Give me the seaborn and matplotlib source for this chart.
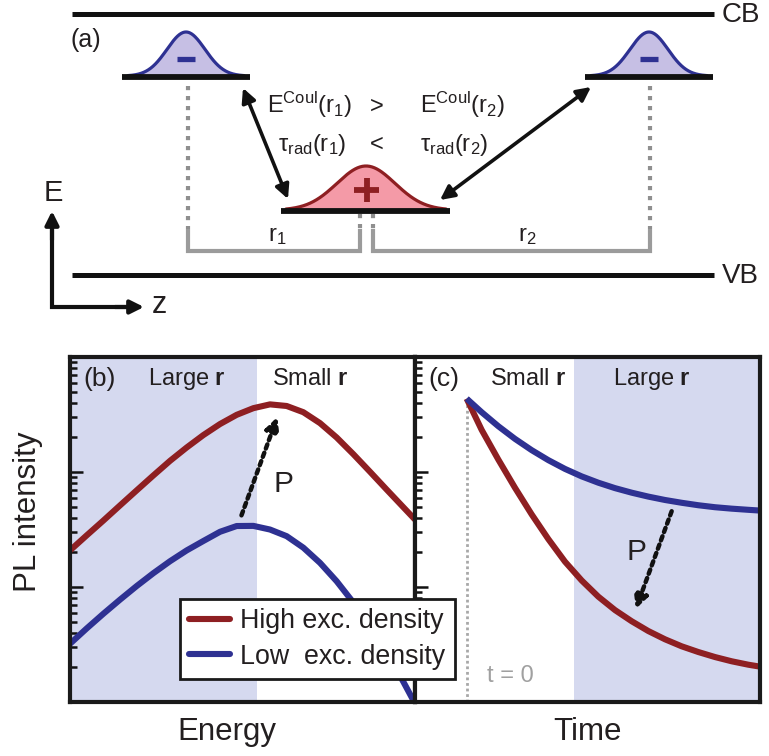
import numpy as np
import pandas as pd
import matplotlib
matplotlib.use("Agg")
import matplotlib.pyplot as plt
import seaborn as sns
from matplotlib.ticker import LogLocator, NullFormatter, NullLocator

# ---------------- data ----------------
series = ["High exc. density", "Low  exc. density"]

# (b) PL spectrum, energy in arbitrary units
energy = [0, 50, 100, 150, 200, 250, 300, 350, 400, 450, 500, 550, 600, 650,
          700, 750, 800, 850, 900, 950, 1000, 1035]
pl_high = [20.8, 28.1, 37.8, 51.2, 69.2, 93.3, 125.0, 163.3, 209.4, 261.2, 314.1,
           358.9, 387.3, 375.0, 331.1, 266.1, 199.5, 142.9, 100.5, 70.3, 49.4, 38.6]
pl_low = [3.21, 4.36, 5.85, 7.76, 10.19, 13.18, 16.75, 20.80, 25.12, 30.2, 33.9,
          34.0, 31.6, 27.67, 21.98, 16.22, 11.22, 7.33, 4.54, 2.67, 1.50, 0.97]

# (c) PL transient, time in arbitrary units
time = [0, 45, 95, 145, 195, 245, 295, 345, 395, 445, 495, 545, 595, 645, 695,
        745, 795, 845, 880]
tr_high = [434.5, 232.3, 128.2, 72.9, 42.8, 26.1, 16.6, 11.4, 8.24, 6.30, 5.04,
           4.14, 3.51, 3.05, 2.72, 2.46, 2.26, 2.11, 2.03]
tr_low = [434.5, 331.1, 250.0, 194.1, 154.9, 126.8, 106.4, 91.6, 80.7, 72.4, 66.1,
          61.1, 57.1, 54.0, 51.4, 49.4, 48.0, 46.9, 46.2]

energy_range = (0, 1035)
time_range = (-155, 880)
pl_range = (1, 1000)
large_r_energy = (0, 560)   # shaded "Large r" region in (b)
large_r_time = (323, 880)   # shaded "Large r" region in (c)

# ---------------- style ----------------
RED = "#8e1f22"
BLUE = "#2e3192"
SHADE = "#d5d9ef"
INK = "#231f20"
GREY = "#9b9b9b"
E_FILL = "#c6bfe4"
H_FILL = "#f49aa7"

sns.set_theme(style="white")
plt.rcParams["font.family"] = ["Liberation Sans", "DejaVu Sans"]
plt.rcParams["mathtext.fontset"] = "custom"
plt.rcParams["mathtext.rm"] = "Liberation Sans"
plt.rcParams["mathtext.it"] = "Liberation Sans:italic"
plt.rcParams["mathtext.bf"] = "Liberation Sans:bold"
plt.rcParams["text.color"] = INK

W, H = 769, 756
fig = plt.figure(figsize=(W / 100, H / 100), dpi=100)


def fx(px):
    return px / W


def fy(py):
    return 1 - py / H


# ---------------- panel (a): schematic ----------------
axa = fig.add_axes([0, fy(330), 1, 330 / H])
axa.set_xlim(0, W)
axa.set_ylim(330, 0)
axa.axis("off")

# bands
for yb, lab in [(14, "CB"), (275, "VB")]:
    axa.plot([72, 714], [yb, yb], color="#111111", lw=3.6, solid_capstyle="butt")
    axa.text(722, yb + 1, lab, fontsize=20, ha="left", va="center", color=INK)
axa.text(70, 40, "(a)", fontsize=18, ha="left", va="center", color=INK)


def gauss(cx, base, h, s, halfw, fill, edge):
    xs = np.linspace(cx - halfw, cx + halfw, 200)
    ys = base - h * np.exp(-0.5 * ((xs - cx) / s) ** 2)
    axa.fill_between(xs, base, ys, color=fill, lw=0, zorder=2)
    axa.plot(xs, ys, color=edge, lw=2.3, zorder=3)


# electrons
for cx in (186, 649):
    gauss(cx, 76, 44, 19, 58, E_FILL, BLUE)
    axa.plot([cx - 64, cx + 64], [77, 77], color="#111111", lw=4.2,
             solid_capstyle="butt", zorder=4)
    axa.plot([cx - 9, cx + 9], [59, 59], color=BLUE, lw=3.8,
             solid_capstyle="butt", zorder=4)
# hole
gauss(366, 210, 44, 29, 80, H_FILL, RED)
axa.plot([281, 450], [211, 211], color="#111111", lw=4.2, solid_capstyle="butt", zorder=4)
axa.plot([354, 379], [190, 190], color=RED, lw=4.2, solid_capstyle="butt", zorder=4)
axa.plot([366.5, 366.5], [178, 202], color=RED, lw=4.2, solid_capstyle="butt", zorder=4)

# dotted projections and brackets
dot = dict(color="#8f8f8f", lw=3.0, ls=(0, (1, 1.4)), dash_capstyle="butt")
axa.plot([188, 188], [86, 229], **dot)
axa.plot([650, 650], [86, 229], **dot)
axa.plot([360, 360], [214, 229], **dot)
axa.plot([373, 373], [214, 229], **dot)
br = dict(color=GREY, lw=3.0, solid_joinstyle="miter", solid_capstyle="butt")
axa.plot([188, 188, 360, 360], [229, 251, 251, 229], **br)
axa.plot([373, 373, 650, 650], [229, 251, 251, 229], **br)
axa.text(277, 241, r"r$_1$", fontsize=17, ha="center", va="baseline", color=INK)
axa.text(527, 241, r"r$_2$", fontsize=17, ha="center", va="baseline", color=INK)

# double arrows
arr = dict(arrowstyle="<|-|>", color="#111111", lw=2.6, mutation_scale=21,
           shrinkA=0, shrinkB=0)
axa.annotate("", xy=(243, 88), xytext=(288, 199), arrowprops=arr)
axa.annotate("", xy=(591, 87), xytext=(440, 200), arrowprops=arr)

# relations
axa.text(267, 113, r"E$^{\mathrm{Coul}}$(r$_1$)", fontsize=17, ha="left", va="baseline")
axa.text(377, 113, ">", fontsize=17, ha="center", va="baseline")
axa.text(420, 113, r"E$^{\mathrm{Coul}}$(r$_2$)", fontsize=17, ha="left", va="baseline")
axa.text(278, 151, r"$\mathrm{\tau}_{\mathrm{rad}}$(r$_1$)", fontsize=17, ha="left", va="baseline")
axa.text(377, 151, "<", fontsize=17, ha="center", va="baseline")
axa.text(420, 151, r"$\mathrm{\tau}_{\mathrm{rad}}$(r$_2$)", fontsize=17, ha="left", va="baseline")

# E / z axes
axa.plot([52, 52, 134], [222, 307, 307], color="#111111", lw=3.0,
         solid_joinstyle="miter", solid_capstyle="butt")
ar1 = dict(arrowstyle="-|>", color="#111111", lw=3.0, mutation_scale=20,
           shrinkA=0, shrinkB=0)
axa.annotate("", xy=(52, 211), xytext=(52, 240), arrowprops=ar1)
axa.annotate("", xy=(144, 307), xytext=(115, 307), arrowprops=ar1)
axa.text(53, 193, "E", fontsize=21, ha="center", va="center")
axa.text(159, 305, "z", fontsize=22, ha="center", va="center")

# ---------------- panels (b) and (c) ----------------
axb = fig.add_axes([fx(70), fy(702), 345 / W, 345 / H])
axc = fig.add_axes([fx(415), fy(702), 345 / W, 345 / H])

df_b = pd.DataFrame({
    "energy": energy * 2,
    "pl": pl_high + pl_low,
    "series": [series[0]] * len(energy) + [series[1]] * len(energy),
})
df_c = pd.DataFrame({
    "time": time * 2,
    "pl": tr_high + tr_low,
    "series": [series[0]] * len(time) + [series[1]] * len(time),
})

pal = {series[0]: RED, series[1]: BLUE}
sns.lineplot(data=df_b, x="energy", y="pl", hue="series", hue_order=series,
             palette=pal, lw=4.4, ax=axb, legend=False, zorder=3)
sns.lineplot(data=df_c, x="time", y="pl", hue="series", hue_order=series,
             palette=pal, lw=4.4, ax=axc, legend=False, zorder=3)
for ln in axb.lines + axc.lines:
    ln.set_solid_capstyle("butt")
    ln.set_solid_joinstyle("round")

axb.axvspan(*large_r_energy, color=SHADE, lw=0, zorder=0)
axc.axvspan(*large_r_time, color=SHADE, lw=0, zorder=0)

for ax, xr in [(axb, energy_range), (axc, time_range)]:
    ax.set_yscale("log")
    ax.set_ylim(*pl_range)
    ax.set_xlim(*xr)
    ax.set_xlabel("")
    ax.set_ylabel("")
    ax.yaxis.set_major_locator(LogLocator(base=10, numticks=10))
    ax.yaxis.set_minor_locator(LogLocator(base=10, subs=np.arange(2, 10), numticks=20))
    ax.yaxis.set_major_formatter(NullFormatter())
    ax.yaxis.set_minor_formatter(NullFormatter())
    ax.xaxis.set_major_locator(NullLocator())
    ax.xaxis.set_minor_locator(NullLocator())
    ax.tick_params(axis="y", which="both", direction="in", left=True, right=False,
                   color="#111111", labelleft=False)
    ax.tick_params(axis="y", which="major", length=9.5, width=1.8)
    ax.tick_params(axis="y", which="minor", length=5.0, width=1.8)
    for sp in ax.spines.values():
        sp.set_visible(True)
        sp.set_linewidth(3.0)
        sp.set_color("#1a1a1a")
        sp.set_zorder(5)

# t = 0 marker in (c)
axc.plot([time[0], time[0]], [pl_range[0], tr_high[0]], color="#a8a8a8", lw=2.0,
         ls=(0, (1, 1)), zorder=1)
axc.text(0.275, 0.075, "t = 0", transform=axc.transAxes, fontsize=17,
         color="#a0a0a0", ha="center", va="center")

# region labels
lab_y = 0.937
axb.text(0.04, lab_y, "(b)", transform=axb.transAxes, fontsize=19, ha="left", va="center")
axb.text(0.338, lab_y, r"Large $\mathbf{r}$", transform=axb.transAxes, fontsize=17,
         ha="center", va="center")
axb.text(0.696, lab_y, r"Small $\mathbf{r}$", transform=axb.transAxes, fontsize=17,
         ha="center", va="center")
axc.text(0.04, lab_y, "(c)", transform=axc.transAxes, fontsize=19, ha="left", va="center")
axc.text(0.329, lab_y, r"Small $\mathbf{r}$", transform=axc.transAxes, fontsize=17,
         ha="center", va="center")
axc.text(0.688, lab_y, r"Large $\mathbf{r}$", transform=axc.transAxes, fontsize=17,
         ha="center", va="center")

# P arrows (dotted)
parr = dict(arrowstyle="-|>", color="#111111", lw=3.2, ls=(0, (1, 1)),
            mutation_scale=20, shrinkA=0, shrinkB=0)
axb.annotate("", xy=(0.601, 0.826), xytext=(0.497, 0.541), xycoords="axes fraction",
             textcoords="axes fraction", arrowprops=parr, zorder=4)
axb.text(0.618, 0.633, "P", transform=axb.transAxes, fontsize=21.5, ha="center", va="center")
axc.annotate("", xy=(0.640, 0.270), xytext=(0.744, 0.553), xycoords="axes fraction",
             textcoords="axes fraction", arrowprops=parr, zorder=4)
axc.text(0.641, 0.435, "P", transform=axc.transAxes, fontsize=21.5, ha="center", va="center")

# axis labels
fig.text(fx(227), fy(732), "Energy", fontsize=22.5, ha="center", va="center")
fig.text(fx(588), fy(732), "Time", fontsize=22.5, ha="center", va="center")
fig.text(fx(28), fy(512), "PL intensity", fontsize=22.5, rotation=90,
         ha="center", va="center")

# legend
handles = [plt.Line2D([], [], color=RED, lw=4.4), plt.Line2D([], [], color=BLUE, lw=4.4)]
leg = fig.legend(handles, series, loc="upper left", bbox_to_anchor=(fx(180), fy(599)),
                 frameon=True, fancybox=False, framealpha=1, edgecolor="#1a1a1a",
                 borderpad=0.35, handlelength=1.5, handletextpad=0.4, labelspacing=0.35,
                 fontsize=19.3, borderaxespad=0)
leg.get_frame().set_linewidth(2.0)
leg.set_zorder(10)

fig.savefig("out.png", dpi=100)
